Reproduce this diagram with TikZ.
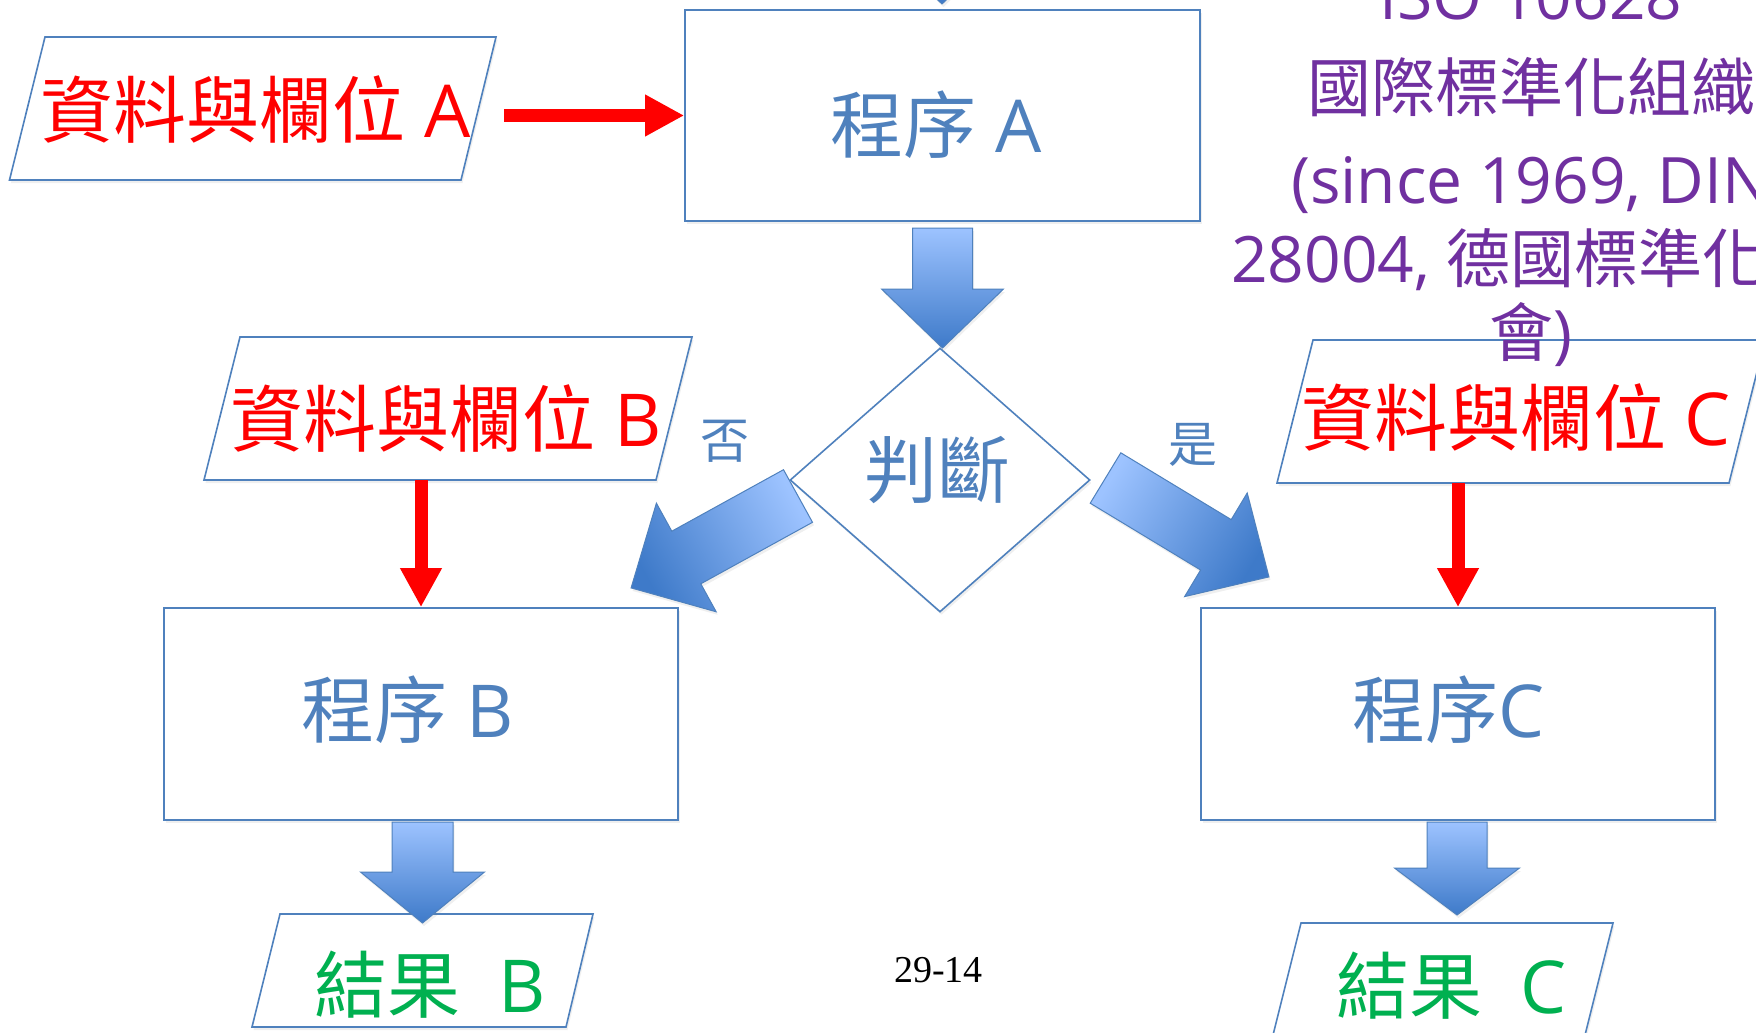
\documentclass[tikz,border=0pt]{standalone}
\usepackage{fontspec}
\setmainfont{Open Sans}
\newfontfamily\cjk{Noto Sans CJK TC}
\newfontfamily\tmsfont{Liberation Serif}
\usetikzlibrary{shapes.geometric,shadows,arrows.meta}
\definecolor{lineblue}{HTML}{4F81BD}
\definecolor{arrtop}{HTML}{9DC3FF}
\definecolor{arrbot}{HTML}{3E7AC9}
\definecolor{redc}{HTML}{FF0000}
\definecolor{greenc}{HTML}{00B050}
\definecolor{purplec}{HTML}{7030A0}
\begin{document}
\begin{tikzpicture}[x=1pt,y=1pt,
  softshadow/.style={drop shadow={shadow xshift=1.5pt, shadow yshift=-3pt, opacity=0.12}},
  shapeline/.style={draw=lineblue, line width=1.6pt, fill=white, softshadow},
  procbox/.style={shapeline, rectangle, inner sep=0pt},
  decision/.style={shapeline, diamond, inner sep=0pt},
  iobox/.style={shapeline, line join=miter},
  bigtxt/.style={font=\fontsize{73}{80}\selectfont, inner sep=0pt, anchor=base},
  midtxt/.style={font=\fontsize{49}{55}\selectfont, inner sep=0pt, anchor=base, text=lineblue},
  isotxt/.style={font=\fontsize{64}{70}\selectfont, inner sep=0pt, anchor=base, text=purplec},
  redarrow/.style={draw=redc, line width=13pt, -{Triangle[length=39pt,width=39pt]}},
  blockdown/.style={draw=lineblue, line width=1pt, top color=arrtop, bottom color=arrbot, softshadow},
  blockdiag/.style={draw=lineblue, line width=1pt, top color=arrtop, bottom color=arrbot, shading angle=#1, softshadow},
]
\useasboundingbox (0,0) rectangle (1756,-1033);
\clip (0,0) rectangle (1756,-1033);
\fill[white] (0,0) rectangle (1756,-1033);

% input / output parallelograms
\path[iobox] (45,-37) -- (496,-37) -- (461,-180) -- (9.5,-180) -- cycle;
\path[iobox] (240,-337) -- (692,-337) -- (656,-480) -- (204,-480) -- cycle;
\path[iobox] (1313,-340) -- (1765,-340) -- (1729,-483) -- (1277,-483) -- cycle;
\path[iobox] (280,-914) -- (593,-914) -- (566,-1027) -- (252,-1027) -- cycle;
\path[iobox] (1301,-923) -- (1613,-923) -- (1584.5,-1037) -- (1272.5,-1037) -- cycle;

% process boxes and decision
\node[procbox, minimum width=515pt, minimum height=211pt] (pA) at (942.5,-115.5) {};
\node[procbox, minimum width=514pt, minimum height=212pt] (pB) at (421,-714) {};
\node[procbox, minimum width=514pt, minimum height=212pt] (pC) at (1458,-714) {};
\node[decision, minimum width=300pt, minimum height=264pt] (dec) at (940,-480) {};

% block arrows
\shade[blockdown] (912.5,120) -- (971.5,120) -- (971.5,55) -- (1003,55) -- (942,-4) -- (881,55) -- (912.5,55) -- cycle;
\shade[blockdown] (912.5,-228) -- (972.5,-228) -- (972.5,-289) -- (1003.5,-289) -- (942.5,-348) -- (881.5,-289) -- (912.5,-289) -- cycle;
\shade[blockdown] (392,-822) -- (453,-822) -- (453,-872) -- (484.5,-872) -- (422.5,-923) -- (360.5,-872) -- (392,-872) -- cycle;
\shade[blockdown] (1427,-822) -- (1487,-822) -- (1487,-868) -- (1519.5,-868) -- (1457,-915) -- (1394.5,-868) -- (1427,-868) -- cycle;
\shade[blockdiag=-61] (783.5,-469.7) -- (671.8,-531.2) -- (656.4,-503.2) -- (631.1,-587.9) -- (716.2,-611.8) -- (700.8,-583.8) -- (812.5,-522.3) -- cycle;
\shade[blockdiag=59] (1120.8,-452.8) -- (1231.2,-519.6) -- (1247.2,-493.0) -- (1268.9,-576.9) -- (1184.6,-596.6) -- (1200.6,-570.0) -- (1090.2,-503.2) -- cycle;

% red connectors
\coordinate (rAs) at (504,-115.5);
\coordinate (rBs) at (421,-480);
\coordinate (rCs) at (1458,-483);
\draw[redarrow] (rAs) -- (pA.west);
\draw[redarrow] (rBs) -- (pB.north);
\draw[redarrow] (rCs) -- (pC.north);

% texts
\node[bigtxt, text=redc] (tA) at (255.5,-137) {{\cjk 資料與欄位} A};
\node[bigtxt, text=redc] (tB) at (446.5,-446) {{\cjk 資料與欄位} B};
\node[bigtxt, text=redc] (tC) at (1516,-445) {{\cjk 資料與欄位} C};
\node[bigtxt, text=lineblue] (pAt) at (936.5,-152) {{\cjk 程序} A};
\node[bigtxt, text=lineblue] (pBt) at (407.5,-737) {{\cjk 程序} B};
\node[bigtxt, text=lineblue] (pCt) at (1449,-737) {{\cjk 程序}C};
\node[bigtxt, text=lineblue] (dect) at (937,-497) {\cjk 判斷};
\node[midtxt] (no) at (725,-458) {\cjk 否};
\node[midtxt] (yes) at (1193,-462) {\cjk 是};
\node[bigtxt, text=greenc] (rBt) at (430,-1012) {{\cjk 結果}\ \ B};
\node[bigtxt, text=greenc] (rCt) at (1451.5,-1013) {{\cjk 結果}\ \ C};

\node[isotxt] (iso1) at (1531,-20) {ISO 10628};
\node[isotxt] (iso2) at (1531,-111) {\cjk 國際標準化組織};
\node[isotxt] (iso3) at (1531,-203) {(since 1969, DIN};
\node[isotxt] (iso4) at (1531,-282) {28004, {\cjk 德國標準化學}};
\node[isotxt] (iso5) at (1531,-356) {{\cjk 會})};

\node[font=\tmsfont\fontsize{38}{42}\selectfont, inner sep=0pt, anchor=base] (pg) at (938.5,-982) {29-14};
\end{tikzpicture}
\end{document}
